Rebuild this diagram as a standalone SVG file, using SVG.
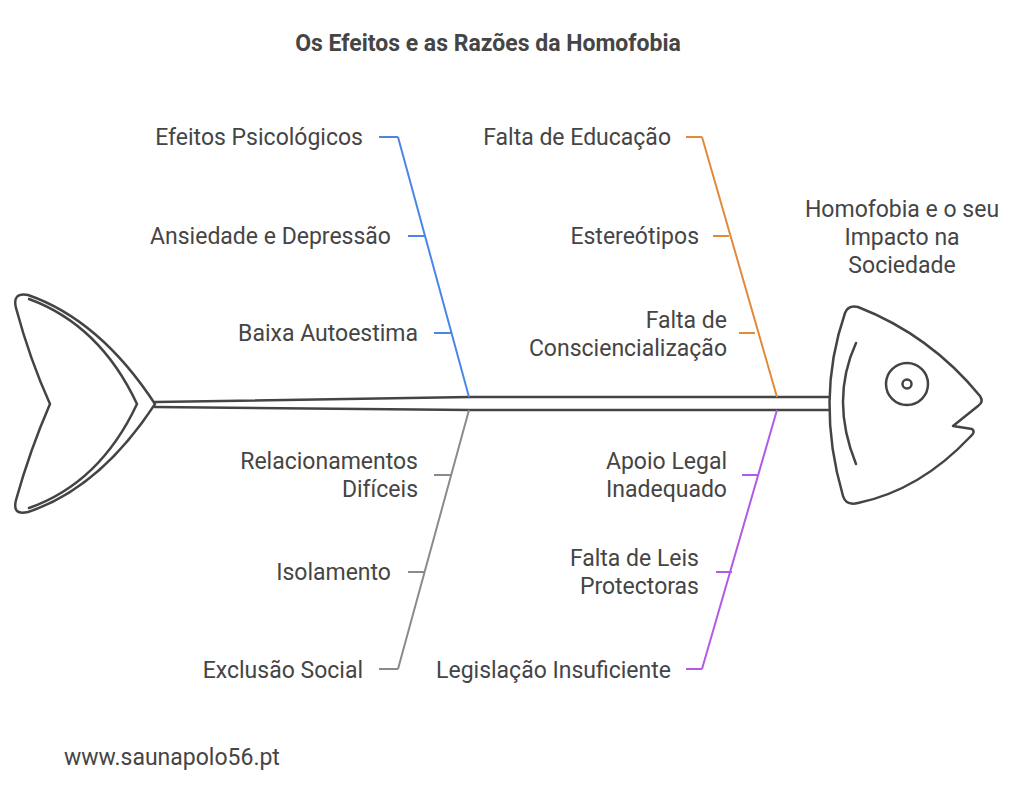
<svg xmlns="http://www.w3.org/2000/svg" width="1024" height="785" viewBox="0 0 1024 785">
<style>
text{font-family:Roboto,"Liberation Sans",sans-serif;font-size:23px;fill:#454545}
.r{text-anchor:end}
.o{fill:none;stroke:#444;stroke-width:2.5;stroke-linejoin:round;stroke-linecap:round}
.b{fill:none;stroke-width:2}
</style>
<rect width="1024" height="785" fill="#fff"/>
<text x="488" y="51" text-anchor="middle" style="font-weight:bold;font-size:23px">Os Efeitos e as Razões da Homofobia</text>
<g id="tail">
<path class="o" d="M155,404 Q100,320 28,295 Q12,292 16,308 Q30,360 50,404 Q30,450 16,500 Q12,516 28,512 Q100,488 155,404 Z"/>
<path class="o" d="M29,299 Q100,325 137,404 Q100,483 29,508"/>
</g>
<g id="spine">
<path class="o" d="M155,402 L470,397 L828,397 M155,407 L470,410 L828,410"/>
</g>
<g id="head">
<path class="o" d="M845,313 Q848,305 858,307 Q930,335 980,396 Q984,402 978,406 L953,426 L972,429 Q976,432 970,437 Q920,490 858,503 Q846,506 843,496 Q815,400 845,313 Z"/>
<path class="o" d="M856,343 Q830,400 856,464"/>
<circle class="o" cx="907" cy="384" r="21"/>
<circle class="o" cx="907" cy="384" r="4.5"/>
</g>
<g id="connectors">
<path class="b" stroke="#4a86e8" d="M398,137 L469,397 M379,137 H398 M408,236 H425 M434,333 H451"/>
<path class="b" stroke="#e08a3a" d="M702,137 L777,397 M686,137 H702 M713,236 H729 M739,333 H755"/>
<path class="b" stroke="#8a8a8a" d="M469,410 L398,669 M434,475 H451 M408,572 H424 M379,669 H398"/>
<path class="b" stroke="#b05be6" d="M777,410 L702,669 M742,475 H759 M716,572 H732 M686,669 H702"/>
</g>
<g id="n1"><text class="r" x="363" y="145">Efeitos Psicológicos</text></g>
<g id="n2"><text class="r" x="391" y="244">Ansiedade e Depressão</text></g>
<g id="n3"><text class="r" x="418" y="341">Baixa Autoestima</text></g>
<g id="n4"><text class="r" x="671" y="145">Falta de Educação</text></g>
<g id="n5"><text class="r" x="699" y="244">Estereótipos</text></g>
<g id="n6"><text class="r" x="727" y="328">Falta de</text><text class="r" x="727" y="356">Consciencialização</text></g>
<g id="n7"><text class="r" x="418" y="469">Relacionamentos</text><text class="r" x="418" y="497">Difíceis</text></g>
<g id="n8"><text class="r" x="391" y="580">Isolamento</text></g>
<g id="n9"><text class="r" x="363" y="678">Exclusão Social</text></g>
<g id="n10"><text class="r" x="727" y="469">Apoio Legal</text><text class="r" x="727" y="497">Inadequado</text></g>
<g id="n11"><text class="r" x="699" y="566">Falta de Leis</text><text class="r" x="699" y="594">Protectoras</text></g>
<g id="n12"><text class="r" x="671" y="678">Legislação Insuficiente</text></g>
<g id="n13" text-anchor="middle"><text x="902" y="217">Homofobia e o seu</text><text x="902" y="245">Impacto na</text><text x="902" y="273">Sociedade</text></g>
<text x="64" y="765">www.saunapolo56.pt</text>
</svg>
